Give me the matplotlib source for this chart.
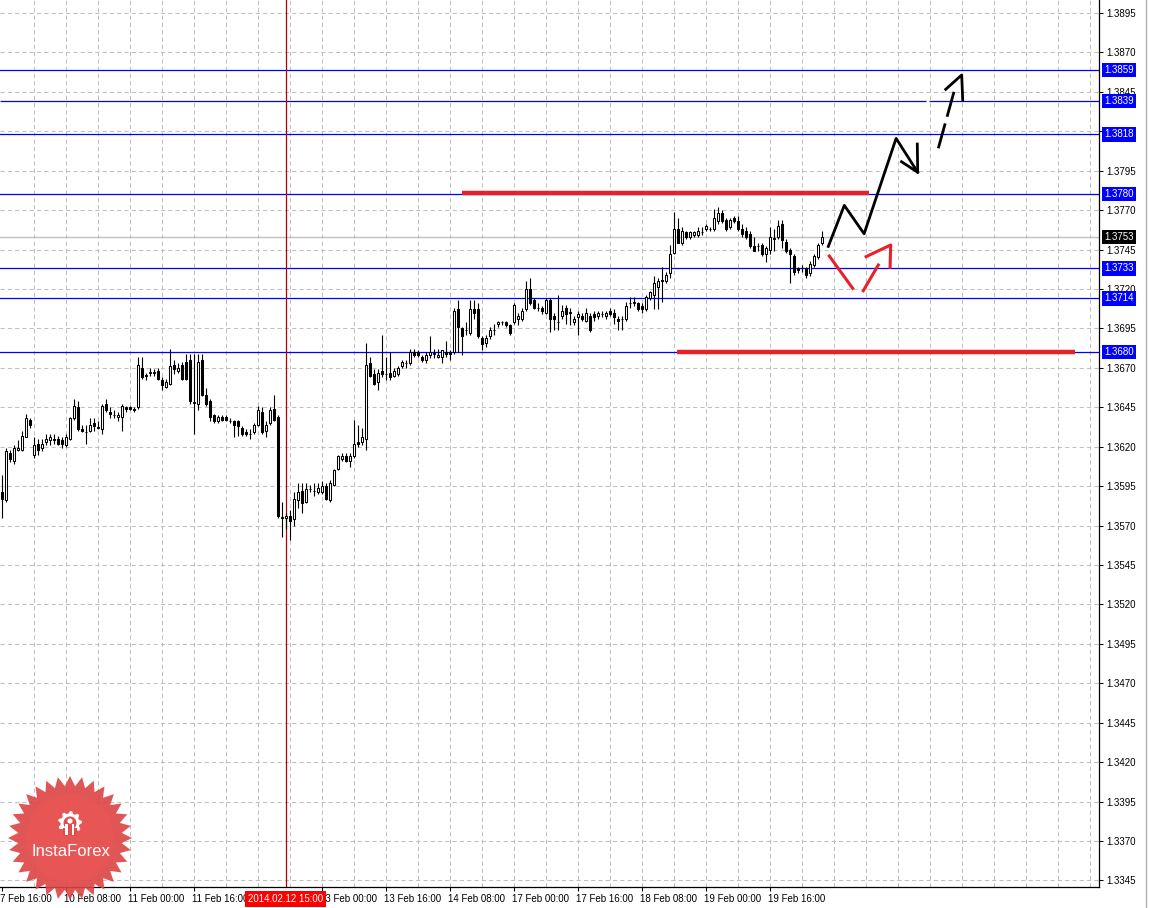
import numpy as np
import matplotlib.pyplot as plt
from matplotlib.patches import Polygon, Circle, Rectangle
from matplotlib.transforms import ScaledTranslation

plt.rcParams['font.family'] = ['Liberation Sans', 'DejaVu Sans']

# EURUSD H1, 7 Feb 16:00 .. 20 Feb 05:00 (one bar per hour)
opens = [
    1.3591, 1.3586, 1.3616, 1.3611, 1.3618, 1.3618, 1.3626, 1.3637, 1.3615, 1.3622,
    1.3619, 1.3623, 1.3624, 1.3625, 1.3625, 1.3624, 1.3621, 1.3625, 1.3638, 1.3645,
    1.3631, 1.3629, 1.3630, 1.3635, 1.3632, 1.3631, 1.3647, 1.3642, 1.3640, 1.3639,
    1.3639, 1.3645, 1.3645, 1.3643, 1.3645, 1.3670, 1.3665, 1.3667, 1.3667, 1.3668,
    1.3662, 1.3658, 1.3660, 1.3672, 1.3668, 1.3672, 1.3674, 1.3675, 1.3648, 1.3647,
    1.3675, 1.3653, 1.3649, 1.3640, 1.3636, 1.3639, 1.3639, 1.3636, 1.3636, 1.3636,
    1.3632, 1.3629, 1.3628, 1.3629, 1.3634, 1.3642, 1.3630, 1.3635, 1.3644, 1.3639,
    1.3575, 1.3575, 1.3576, 1.3574, 1.3586, 1.3592, 1.3585, 1.3593, 1.3592, 1.3591,
    1.3591, 1.3595, 1.3586, 1.3596, 1.3606, 1.3612, 1.3614, 1.3611, 1.3614, 1.3623,
    1.3623, 1.3625, 1.3673, 1.3666, 1.3661, 1.3668, 1.3666, 1.3667, 1.3665, 1.3666,
    1.3671, 1.3673, 1.3673, 1.3680, 1.3680, 1.3677, 1.3675, 1.3678, 1.3679, 1.3677,
    1.3677, 1.3680, 1.3680, 1.3680, 1.3707, 1.3695, 1.3694, 1.3692, 1.3707, 1.3707,
    1.3689, 1.3686, 1.3690, 1.3694, 1.3698, 1.3699, 1.3699, 1.3697, 1.3699, 1.3701,
    1.3701, 1.3707, 1.3720, 1.3713, 1.3708, 1.3708, 1.3705, 1.3713, 1.3703, 1.3699,
    1.3703, 1.3708, 1.3705, 1.3699, 1.3702, 1.3703, 1.3700, 1.3703, 1.3704, 1.3703,
    1.3704, 1.3703, 1.3706, 1.3705, 1.3701, 1.3701, 1.3701, 1.3711, 1.3711, 1.3711,
    1.3709, 1.3707, 1.3714, 1.3716, 1.3721, 1.3726, 1.3725, 1.3730, 1.3743, 1.3758,
    1.3749, 1.3756, 1.3753, 1.3754, 1.3754, 1.3756, 1.3758, 1.3758, 1.3758, 1.3763,
    1.3768, 1.3764, 1.3759, 1.3765, 1.3763, 1.3758, 1.3757, 1.3755, 1.3747, 1.3747,
    1.3748, 1.3742, 1.3745, 1.3752, 1.3753, 1.3761, 1.3750, 1.3745, 1.3741, 1.3733,
    1.3733, 1.3733, 1.3730, 1.3735, 1.3740, 1.3749,
]
highs = [
    1.3602, 1.3619, 1.3618, 1.3621, 1.3624, 1.3630, 1.3641, 1.3638, 1.3626, 1.3625,
    1.3625, 1.3628, 1.3628, 1.3628, 1.3627, 1.3626, 1.3628, 1.3639, 1.3650, 1.3649,
    1.3634, 1.3634, 1.3638, 1.3638, 1.3636, 1.3647, 1.3650, 1.3645, 1.3643, 1.3642,
    1.3647, 1.3646, 1.3646, 1.3645, 1.3677, 1.3677, 1.3667, 1.3670, 1.3669, 1.3670,
    1.3664, 1.3663, 1.3682, 1.3675, 1.3673, 1.3674, 1.3679, 1.3679, 1.3679, 1.3679,
    1.3679, 1.3657, 1.3650, 1.3641, 1.3640, 1.3640, 1.3640, 1.3638, 1.3637, 1.3637,
    1.3633, 1.3631, 1.3631, 1.3635, 1.3646, 1.3645, 1.3636, 1.3645, 1.3653, 1.3640,
    1.3585, 1.3578, 1.3580, 1.3591, 1.3597, 1.3597, 1.3597, 1.3596, 1.3597, 1.3597,
    1.3598, 1.3597, 1.3599, 1.3606, 1.3615, 1.3616, 1.3616, 1.3616, 1.3637, 1.3634,
    1.3632, 1.3686, 1.3677, 1.3669, 1.3669, 1.3691, 1.3677, 1.3680, 1.3670, 1.3671,
    1.3675, 1.3675, 1.3682, 1.3682, 1.3681, 1.3678, 1.3680, 1.3690, 1.3682, 1.3682,
    1.3681, 1.3687, 1.3681, 1.3708, 1.3713, 1.3696, 1.3699, 1.3713, 1.3713, 1.3711,
    1.3690, 1.3691, 1.3696, 1.3698, 1.3700, 1.3700, 1.3700, 1.3698, 1.3711, 1.3705,
    1.3708, 1.3725, 1.3727, 1.3714, 1.3711, 1.3709, 1.3714, 1.3714, 1.3705, 1.3716,
    1.3710, 1.3710, 1.3708, 1.3703, 1.3706, 1.3705, 1.3708, 1.3705, 1.3706, 1.3706,
    1.3706, 1.3706, 1.3708, 1.3707, 1.3703, 1.3703, 1.3712, 1.3715, 1.3715, 1.3712,
    1.3711, 1.3716, 1.3719, 1.3728, 1.3727, 1.3734, 1.3731, 1.3748, 1.3769, 1.3765,
    1.3759, 1.3757, 1.3757, 1.3757, 1.3759, 1.3759, 1.3761, 1.3759, 1.3771, 1.3772,
    1.3770, 1.3765, 1.3765, 1.3766, 1.3766, 1.3761, 1.3759, 1.3757, 1.3753, 1.3749,
    1.3749, 1.3747, 1.3759, 1.3758, 1.3764, 1.3764, 1.3752, 1.3746, 1.3742, 1.3734,
    1.3735, 1.3734, 1.3738, 1.3742, 1.3749, 1.3757,
]
lows = [
    1.3575, 1.3585, 1.3610, 1.3609, 1.3617, 1.3617, 1.3626, 1.3632, 1.3613, 1.3615,
    1.3617, 1.3621, 1.3621, 1.3622, 1.3621, 1.3619, 1.3620, 1.3624, 1.3637, 1.3630,
    1.3629, 1.3622, 1.3629, 1.3630, 1.3631, 1.3628, 1.3642, 1.3638, 1.3638, 1.3636,
    1.3630, 1.3642, 1.3643, 1.3642, 1.3644, 1.3663, 1.3662, 1.3665, 1.3665, 1.3662,
    1.3656, 1.3657, 1.3659, 1.3666, 1.3667, 1.3662, 1.3662, 1.3647, 1.3628, 1.3643,
    1.3652, 1.3646, 1.3636, 1.3635, 1.3635, 1.3636, 1.3636, 1.3635, 1.3626, 1.3627,
    1.3627, 1.3627, 1.3625, 1.3628, 1.3633, 1.3628, 1.3626, 1.3634, 1.3636, 1.3575,
    1.3563, 1.3568, 1.3561, 1.3570, 1.3581, 1.3578, 1.3584, 1.3591, 1.3589, 1.3590,
    1.3590, 1.3586, 1.3585, 1.3595, 1.3605, 1.3611, 1.3610, 1.3607, 1.3613, 1.3620,
    1.3621, 1.3618, 1.3664, 1.3659, 1.3656, 1.3664, 1.3662, 1.3662, 1.3664, 1.3665,
    1.3670, 1.3670, 1.3672, 1.3677, 1.3677, 1.3674, 1.3673, 1.3676, 1.3676, 1.3676,
    1.3673, 1.3677, 1.3675, 1.3679, 1.3680, 1.3678, 1.3691, 1.3691, 1.3701, 1.3689,
    1.3681, 1.3683, 1.3688, 1.3691, 1.3696, 1.3697, 1.3696, 1.3691, 1.3698, 1.3697,
    1.3700, 1.3706, 1.3710, 1.3707, 1.3706, 1.3704, 1.3704, 1.3693, 1.3694, 1.3694,
    1.3701, 1.3698, 1.3697, 1.3697, 1.3691, 1.3700, 1.3699, 1.3693, 1.3700, 1.3701,
    1.3702, 1.3701, 1.3703, 1.3698, 1.3694, 1.3694, 1.3700, 1.3708, 1.3709, 1.3706,
    1.3705, 1.3706, 1.3713, 1.3707, 1.3707, 1.3712, 1.3724, 1.3727, 1.3742, 1.3749,
    1.3748, 1.3752, 1.3752, 1.3753, 1.3753, 1.3754, 1.3757, 1.3757, 1.3757, 1.3761,
    1.3762, 1.3757, 1.3758, 1.3762, 1.3757, 1.3753, 1.3752, 1.3746, 1.3744, 1.3744,
    1.3741, 1.3737, 1.3742, 1.3744, 1.3752, 1.3746, 1.3743, 1.3724, 1.3729, 1.3730,
    1.3731, 1.3727, 1.3728, 1.3734, 1.3739, 1.3748,
]
closes = [
    1.3587, 1.3617, 1.3612, 1.3619, 1.3619, 1.3627, 1.3638, 1.3634, 1.3621, 1.3618,
    1.3622, 1.3625, 1.3626, 1.3624, 1.3622, 1.3622, 1.3626, 1.3638, 1.3646, 1.3631,
    1.3630, 1.3629, 1.3634, 1.3633, 1.3632, 1.3646, 1.3643, 1.3641, 1.3640, 1.3640,
    1.3646, 1.3644, 1.3644, 1.3644, 1.3672, 1.3664, 1.3665, 1.3667, 1.3667, 1.3663,
    1.3659, 1.3661, 1.3671, 1.3669, 1.3670, 1.3663, 1.3663, 1.3649, 1.3648, 1.3674,
    1.3653, 1.3647, 1.3639, 1.3636, 1.3639, 1.3637, 1.3637, 1.3636, 1.3634, 1.3633,
    1.3628, 1.3628, 1.3628, 1.3634, 1.3643, 1.3629, 1.3634, 1.3643, 1.3637, 1.3576,
    1.3575, 1.3576, 1.3573, 1.3587, 1.3591, 1.3584, 1.3593, 1.3593, 1.3592, 1.3594,
    1.3595, 1.3587, 1.3597, 1.3605, 1.3614, 1.3614, 1.3611, 1.3614, 1.3622, 1.3622,
    1.3626, 1.3672, 1.3665, 1.3660, 1.3667, 1.3666, 1.3666, 1.3664, 1.3668, 1.3670,
    1.3674, 1.3673, 1.3680, 1.3678, 1.3678, 1.3675, 1.3678, 1.3680, 1.3679, 1.3678,
    1.3681, 1.3679, 1.3679, 1.3706, 1.3696, 1.3690, 1.3694, 1.3707, 1.3705, 1.3690,
    1.3685, 1.3689, 1.3694, 1.3694, 1.3699, 1.3699, 1.3697, 1.3692, 1.3710, 1.3703,
    1.3706, 1.3720, 1.3711, 1.3708, 1.3708, 1.3706, 1.3713, 1.3701, 1.3701, 1.3699,
    1.3706, 1.3704, 1.3705, 1.3701, 1.3704, 1.3701, 1.3705, 1.3694, 1.3702, 1.3705,
    1.3704, 1.3705, 1.3704, 1.3702, 1.3700, 1.3701, 1.3709, 1.3711, 1.3712, 1.3707,
    1.3707, 1.3715, 1.3718, 1.3724, 1.3725, 1.3725, 1.3729, 1.3742, 1.3758, 1.3749,
    1.3757, 1.3753, 1.3756, 1.3756, 1.3757, 1.3756, 1.3760, 1.3758, 1.3765, 1.3768,
    1.3763, 1.3758, 1.3764, 1.3763, 1.3758, 1.3755, 1.3753, 1.3747, 1.3744, 1.3747,
    1.3742, 1.3746, 1.3753, 1.3752, 1.3760, 1.3751, 1.3744, 1.3742, 1.3731, 1.3732,
    1.3733, 1.3729, 1.3736, 1.3741, 1.3748, 1.3753,
]

# the 12 Feb 08:00 label sits under the red date box, so it is left out
date_ticks = [0, 16, 32, 48, 80, 96, 112, 128, 144, 160, 176, 192]
date_labels = ['7 Feb 16:00', '10 Feb 08:00', '11 Feb 00:00', '11 Feb 16:00',
               '13 Feb 00:00', '13 Feb 16:00', '14 Feb 08:00',
               '17 Feb 00:00', '17 Feb 16:00', '18 Feb 08:00', '19 Feb 00:00',
               '19 Feb 16:00']
price_ticks = [1.3345, 1.3370, 1.3395, 1.3420, 1.3445, 1.3470, 1.3495, 1.3520,
               1.3545, 1.3570, 1.3595, 1.3620, 1.3645, 1.3670, 1.3695, 1.3720,
               1.3745, 1.3770, 1.3795, 1.3820, 1.3845, 1.3870, 1.3895]

levels = [1.3859, 1.3839, 1.3818, 1.3780, 1.3733, 1.3714, 1.3680]
bid = 1.3753
vline_bar = 71
vline_label = '2014.02.12 15:00'

# thick red zones: (start bar, end bar, price)
red_zones = [(115.1, 216.8, 1.3781), (168.8, 268.3, 1.3680)]

# hand-drawn forecast paths (bar, price)
up_x = [206.65, 210.65, 215.6, 223.6, 229.0]
up_y = [1.3747, 1.3773, 1.3755, 1.38155, 1.3794]
up_head_x = [224.95, 229.0, 228.9]
up_head_y = [1.38007, 1.3794, 1.38119]
dash_x = [234.15, 238.2]
dash_y = [1.38092, 1.38462]
dash_head_x = [236.0, 240.0, 240.25]
dash_head_y = [1.38466, 1.38557, 1.38398]
alt_x1 = [206.9, 212.75]
alt_y1 = [1.37409, 1.37204]
alt_x2 = [215.4, 219.15]
alt_y2 = [1.37189, 1.37352]
alt_x3 = [216.1, 222.25, 222.1]
alt_y3 = [1.37405, 1.37479, 1.37338]

W, H = 1151, 908
fig = plt.figure(figsize=(W / 100, H / 100), dpi=100)
ax = fig.add_axes([0, 21 / H, 1099 / W, 887 / H])
ax.set_xlim(-0.425, 274.325)
ax.set_ylim(1.3895 - 874 / 15770, 1.3895 + 13 / 15770)

grid_kw = dict(color='#C0C0C0', linestyle=(0, (4, 3)), linewidth=0.75, zorder=0)
for p in price_ticks:
    ax.axhline(p, **grid_kw)
for g in range(8, 275, 8):
    ax.axvline(g, **grid_kw)

# level lines
for lv in levels:
    if lv == 1.3839:
        ax.hlines(lv, -0.425, 231.0, color='#0000FF', lw=0.9, zorder=1)
        ax.hlines(lv, 231.7, 274.325, color='#0000FF', lw=0.9, zorder=1)
    else:
        ax.axhline(lv, color='#0000FF', lw=0.9, zorder=1)
ax.axhline(bid, color='#C0C0C0', lw=1.0, zorder=1)
ax.axvline(vline_bar, color='#B00000', lw=0.9, zorder=1)

# candles
idx = np.arange(len(opens))
o = np.array(opens)
c = np.array(closes)
ax.vlines(idx, lows, highs, color='black', lw=0.8, zorder=2)
body_lo = np.minimum(o, c)
body_h = np.maximum(np.abs(c - o), 0.00002)
face = ['black' if cc < oo else 'white' for oo, cc in zip(o, c)]
ax.bar(idx, body_h, bottom=body_lo, width=0.5, color=face,
       edgecolor='black', linewidth=0.75, zorder=3)

# red zones
for x0, x1, p in red_zones:
    ax.hlines(p, x0, x1, color='#E8202A', lw=3.2, zorder=4)

# forecast drawings
ax.plot(up_x, up_y, color='black', lw=2, zorder=5)
ax.plot(up_head_x, up_head_y, color='black', lw=2, zorder=5)
ax.plot(dash_x, dash_y, color='black', lw=2, linestyle=(0, (9.3, 2.5)), zorder=5)
ax.plot(dash_head_x, dash_head_y, color='black', lw=2, zorder=5)
for xs, ys in [(alt_x1, alt_y1), (alt_x2, alt_y2), (alt_x3, alt_y3)]:
    ax.plot(xs, ys, color='#E8202A', lw=2.2, zorder=5)

# axes look
for s in ['left', 'top']:
    ax.spines[s].set_visible(False)
ax.spines['right'].set_linewidth(0.9)
ax.spines['bottom'].set_linewidth(0.9)

ax.yaxis.tick_right()
ax.set_yticks(price_ticks)
ax.set_yticklabels(['%.4f' % p for p in price_ticks])
ax.tick_params(axis='y', length=3, width=0.75, pad=2, labelsize=7)

ax.set_xticks(date_ticks)
ax.set_xticklabels(date_labels, ha='left')
ax.tick_params(axis='x', length=3, width=0.75, pad=2, labelsize=7)
for lbl in ax.get_xticklabels():
    lbl.set_transform(lbl.get_transform() + ScaledTranslation(-2 / 100, 0, fig.dpi_scale_trans))

# price boxes on the right scale
ytr = ax.get_yaxis_transform()
for lv in levels:
    ax.text(1.0046, lv, '%.4f' % lv, transform=ytr, ha='left', va='center',
            color='white', fontsize=7, zorder=10, clip_on=False,
            bbox=dict(boxstyle='square,pad=0.22', fc='#0000FF', ec='none'))
ax.text(1.0046, bid, '%.4f' % bid, transform=ytr, ha='left', va='center',
        color='white', fontsize=7, zorder=10, clip_on=False,
        bbox=dict(boxstyle='square,pad=0.22', fc='black', ec='none'))

# date box for the vertical line
xtr = ax.get_xaxis_transform()
ax.text(vline_bar, -0.0075, vline_label, transform=xtr, ha='center', va='top',
        color='white', fontsize=7, zorder=10, clip_on=False,
        bbox=dict(boxstyle='square,pad=0.3', fc='#FF0000', ec='none'))

# overlay in pixel coordinates for frame edge and logo
ov = fig.add_axes([0, 0, 1, 1], zorder=5)
ov.set_xlim(0, W)
ov.set_ylim(H, 0)
ov.axis('off')
ov.plot([1146, 1146], [0, H], color='#B0B0B0', lw=1)

cx, cy = 70, 838
n = 32
ang = np.linspace(0, 2 * np.pi, 2 * n, endpoint=False) + np.pi / 2
rad = np.where(np.arange(2 * n) % 2 == 0, 62, 52)
star = np.column_stack([cx + rad * np.cos(ang), cy - rad * np.sin(ang)])
ov.add_patch(Polygon(star, closed=True, fc='#DD4444', ec='none', alpha=0.9))
ov.add_patch(Circle((cx, cy), 44, fc='#F25555', ec='none', alpha=0.45))

gx, gy = 70, 823
ng = 9
gang = np.linspace(0, 2 * np.pi, 4 * ng, endpoint=False)
grad = np.where((np.arange(4 * ng) // 2) % 2 == 0, 12, 9.5)
gear = np.column_stack([gx + grad * np.cos(gang), gy - grad * np.sin(gang)])
ov.add_patch(Polygon(gear, closed=True, fc='white', ec='none'))
ov.add_patch(Circle((gx, gy), 6.5, fc='#E34C4C', ec='none'))
ov.add_patch(Rectangle((gx - 7, gy + 5), 14, 8, fc='#E34C4C', ec='none'))
ov.add_patch(Circle((gx, gy - 2), 2.6, fc='white', ec='none'))
ov.add_patch(Rectangle((gx - 4.5, gy + 1), 2.5, 11, fc='white', ec='none'))
ov.add_patch(Rectangle((gx + 2, gy + 1), 2.5, 11, fc='white', ec='none'))
ov.text(cx + 1, 852, 'InstaForex', color='white', fontsize=12, ha='center', va='center')

fig.savefig('out.png', dpi=100)
